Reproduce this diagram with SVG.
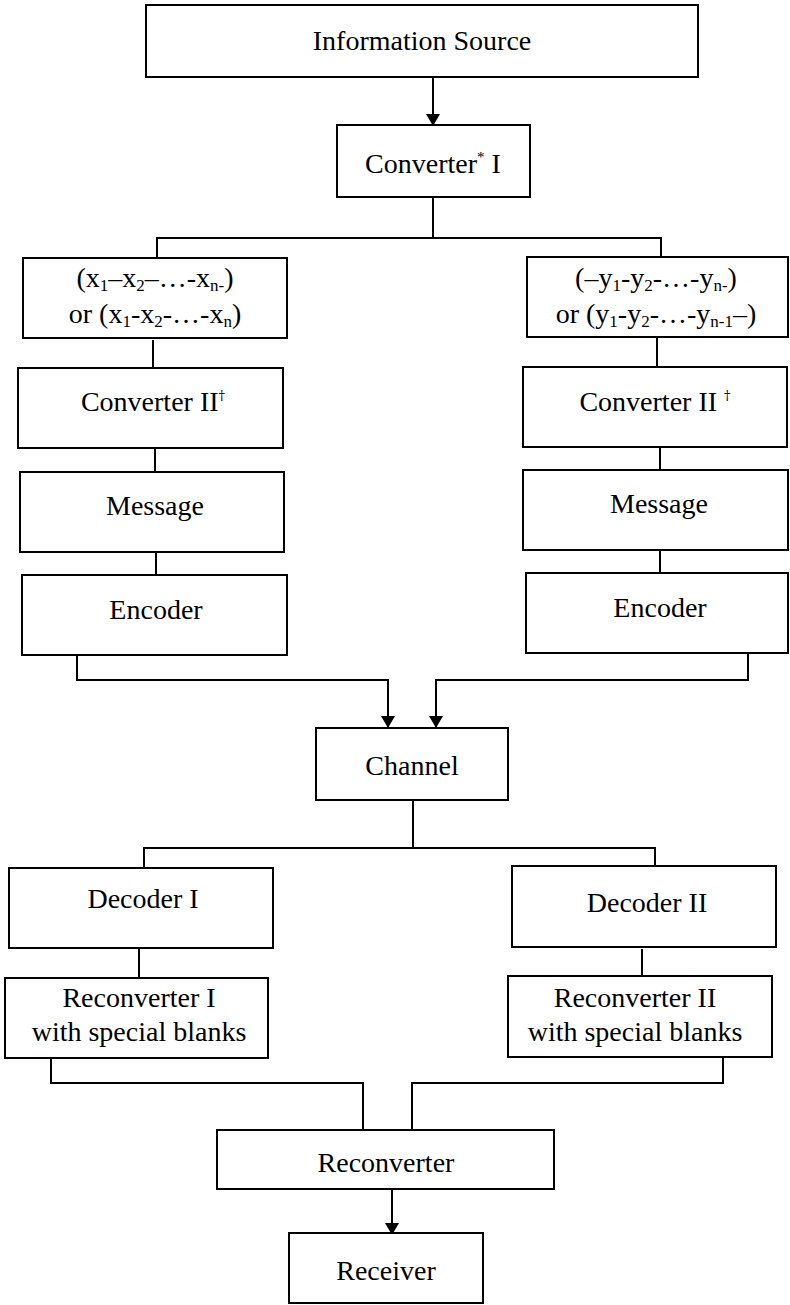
<svg xmlns="http://www.w3.org/2000/svg" width="790" height="1305" viewBox="0 0 790 1305">
<defs>
<style>
.box{fill:#fff;stroke:#000;stroke-width:2}
.ln{fill:none;stroke:#000;stroke-width:2}
text{font-family:"Liberation Serif","Times New Roman",serif;font-size:28px;fill:#000;text-anchor:middle}
.sub{font-size:17px}
.sup{font-size:15px}
.dag{font-family:"DejaVu Serif","Liberation Serif",serif;font-size:13px;fill:#000}
</style>
<marker id="ah" viewBox="0 0 12 14" refX="12" refY="7" markerWidth="12" markerHeight="14" markerUnits="userSpaceOnUse" orient="auto">
<path d="M0,0 L12,7 L0,14 Z" fill="#000"/>
</marker>
</defs>
<rect width="790" height="1305" fill="#fff"/>
<g id="connectors">
<line class="ln" x1="433" y1="77" x2="433" y2="126" marker-end="url(#ah)"/>
<path class="ln" d="M433,192 V238"/>
<path class="ln" d="M157,258 V238 H661 V258"/>
<path class="ln" d="M153,340 V368"/>
<path class="ln" d="M657,337 V367"/>
<path class="ln" d="M155,448 V472"/>
<path class="ln" d="M660,447 V470"/>
<path class="ln" d="M156,552 V575"/>
<path class="ln" d="M660,550 V573"/>
<path class="ln" d="M77,655 V680 H388 V728" marker-end="url(#ah)"/>
<path class="ln" d="M748,653 V680 H436 V728" marker-end="url(#ah)"/>
<path class="ln" d="M413,800 V848"/>
<path class="ln" d="M144,868 V848 H655 V866"/>
<path class="ln" d="M139,948 V978"/>
<path class="ln" d="M642,949 V976"/>
<path class="ln" d="M51,1058 V1083 H363 V1130"/>
<path class="ln" d="M723,1057 V1083 H412 V1130"/>
<line class="ln" x1="392" y1="1189" x2="392" y2="1235" marker-end="url(#ah)"/>
</g>
<g id="info-source"><rect class="box" x="146" y="5" width="552" height="72"/><text x="422" y="50">Information Source</text></g>
<g id="converter-1"><rect class="box" x="337" y="125" width="193" height="72"/><text x="433" y="173">Converter<tspan class="sup" dy="-11">*</tspan><tspan dy="11"> I</tspan></text></g>
<g id="x-seq"><rect class="box" x="23" y="258" width="264" height="80"/>
<text x="155" y="287">(x<tspan class="sub" dy="4">1</tspan><tspan dy="-4">–x</tspan><tspan class="sub" dy="4">2</tspan><tspan dy="-4">–…-x</tspan><tspan class="sub" dy="4">n-</tspan><tspan dy="-4">)</tspan></text>
<text x="155" y="323">or (x<tspan class="sub" dy="4">1</tspan><tspan dy="-4">-x</tspan><tspan class="sub" dy="4">2</tspan><tspan dy="-4">-…-x</tspan><tspan class="sub" dy="4">n</tspan><tspan dy="-4">)</tspan></text></g>
<g id="y-seq"><rect class="box" x="527" y="257" width="261" height="80"/>
<text x="656" y="287">(–y<tspan class="sub" dy="4">1</tspan><tspan dy="-4">-y</tspan><tspan class="sub" dy="4">2</tspan><tspan dy="-4">-…-y</tspan><tspan class="sub" dy="4">n-</tspan><tspan dy="-4">)</tspan></text>
<text x="656" y="323">or (y<tspan class="sub" dy="4">1</tspan><tspan dy="-4">-y</tspan><tspan class="sub" dy="4">2</tspan><tspan dy="-4">-…-y</tspan><tspan class="sub" dy="4">n-1</tspan><tspan dy="-4">–)</tspan></text></g>
<g id="converter-2-left"><rect class="box" x="18" y="368" width="265" height="80"/><text x="153" y="411">Converter II<tspan class="dag" dy="-11">†</tspan></text></g>
<g id="converter-2-right"><rect class="box" x="523" y="367" width="264" height="80"/><text x="655" y="411">Converter II <tspan class="dag" dy="-11">†</tspan></text></g>
<g id="message-left"><rect class="box" x="20" y="472" width="264" height="80"/><text x="155" y="515">Message</text></g>
<g id="message-right"><rect class="box" x="523" y="470" width="265" height="80"/><text x="659" y="513">Message</text></g>
<g id="encoder-left"><rect class="box" x="22" y="575" width="265" height="80"/><text x="156" y="619">Encoder</text></g>
<g id="encoder-right"><rect class="box" x="526" y="573" width="262" height="80"/><text x="660" y="617">Encoder</text></g>
<g id="channel"><rect class="box" x="316" y="728" width="192" height="72"/><text x="412" y="775">Channel</text></g>
<g id="decoder-1"><rect class="box" x="9" y="868" width="264" height="80"/><text x="143" y="908">Decoder I</text></g>
<g id="decoder-2"><rect class="box" x="512" y="866" width="264" height="81"/><text x="647" y="912">Decoder II</text></g>
<g id="reconverter-1"><rect class="box" x="5" y="978" width="263" height="80"/><text x="139" y="1007">Reconverter I</text><text x="139" y="1041">with special blanks</text></g>
<g id="reconverter-2"><rect class="box" x="508" y="976" width="264" height="81"/><text x="635" y="1007">Reconverter II</text><text x="635" y="1041">with special blanks</text></g>
<g id="reconverter"><rect class="box" x="217" y="1130" width="337" height="59"/><text x="386" y="1172">Reconverter</text></g>
<g id="receiver"><rect class="box" x="289" y="1233" width="194" height="70"/><text x="386" y="1280">Receiver</text></g>
</svg>
